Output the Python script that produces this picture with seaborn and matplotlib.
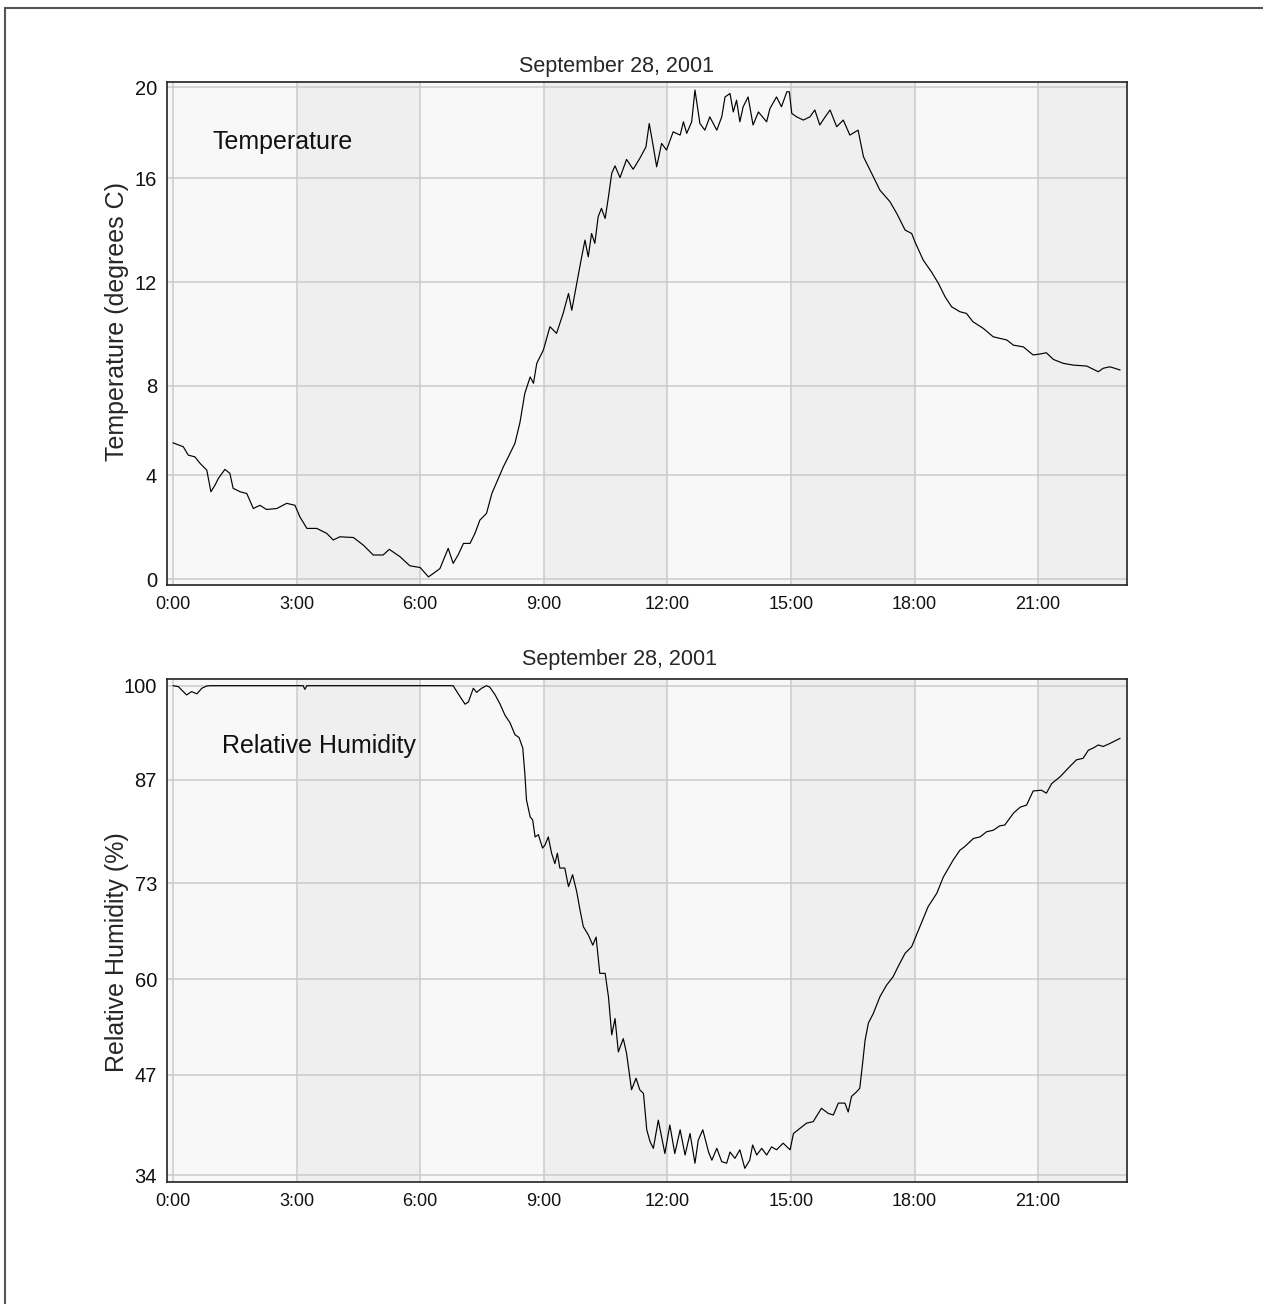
import matplotlib
matplotlib.use("Agg")
import matplotlib.pyplot as plt
import matplotlib.patches as mpatches
import seaborn as sns
import pandas as pd

# ---------------- data ----------------
title_text = "September 28, 2001"

temp_hours = [0.00, 0.25, 0.37, 0.53, 0.66, 0.82, 0.92, 1.02, 1.10, 1.26, 1.38, 1.46, 1.63, 1.79,
              1.95, 2.11, 2.27, 2.52, 2.76, 2.96, 3.08, 3.25, 3.49, 3.73, 3.89, 4.05, 4.38, 4.62,
              4.86, 5.10, 5.25, 5.51, 5.75, 6.00, 6.20, 6.32, 6.48, 6.68, 6.80, 6.92, 7.05, 7.21,
              7.33, 7.45, 7.61, 7.74, 7.90, 8.02, 8.14, 8.30, 8.42, 8.54, 8.67, 8.75, 8.83, 8.99,
              9.15, 9.31, 9.47, 9.60, 9.68, 9.80, 9.92, 10.00, 10.08, 10.16, 10.24, 10.32, 10.40,
              10.49, 10.57, 10.65, 10.73, 10.85, 11.01, 11.17, 11.33, 11.48, 11.56, 11.66, 11.74,
              11.86, 11.98, 12.14, 12.31, 12.39, 12.47, 12.59, 12.67, 12.79, 12.91, 13.03, 13.20,
              13.32, 13.40, 13.52, 13.60, 13.68, 13.76, 13.84, 13.96, 14.08, 14.21, 14.41, 14.49,
              14.65, 14.77, 14.90, 14.96, 15.02, 15.14, 15.30, 15.46, 15.58, 15.70, 15.83, 15.95,
              16.11, 16.27, 16.43, 16.63, 16.76, 17.00, 17.16, 17.40, 17.57, 17.77, 17.93, 18.01,
              18.21, 18.41, 18.58, 18.74, 18.90, 19.10, 19.26, 19.42, 19.67, 19.91, 20.24, 20.40,
              20.64, 20.88, 21.04, 21.20, 21.37, 21.61, 21.85, 22.18, 22.46, 22.58, 22.74, 22.86,
              22.99]
temp_values = [5.54, 5.38, 5.04, 4.97, 4.70, 4.43, 3.55, 3.82, 4.09, 4.46, 4.30, 3.69, 3.55, 3.48,
               2.87, 3.00, 2.83, 2.87, 3.08, 3.00, 2.53, 2.06, 2.06, 1.86, 1.59, 1.72, 1.69, 1.38,
               0.98, 0.98, 1.21, 0.91, 0.54, 0.47, 0.09, 0.23, 0.43, 1.25, 0.64, 0.98, 1.45, 1.45,
               1.86, 2.40, 2.67, 3.48, 4.10, 4.57, 4.97, 5.52, 6.35, 7.55, 8.22, 7.96, 8.77, 9.31,
               10.26, 9.99, 10.80, 11.61, 10.93, 12.02, 13.10, 13.78, 13.10, 14.05, 13.65, 14.73, 15.07,
               14.66, 15.54, 16.50, 16.80, 16.32, 17.06, 16.66, 17.10, 17.57, 18.52, 17.57, 16.76,
               17.71, 17.44, 18.18, 18.05, 18.59, 18.12, 18.59, 19.88, 18.52, 18.25, 18.79, 18.25,
               18.79, 19.60, 19.74, 18.99, 19.47, 18.59, 19.20, 19.60, 18.46, 18.99, 18.59, 19.13,
               19.60, 19.20, 19.81, 19.81, 18.93, 18.79, 18.66, 18.79, 19.07, 18.46, 18.79, 19.07,
               18.39, 18.66, 18.05, 18.25, 17.17, 16.35, 15.81, 15.35, 14.86, 14.19, 14.05, 13.71,
               12.97, 12.49, 12.02, 11.48, 11.07, 10.87, 10.80, 10.46, 10.19, 9.85, 9.72, 9.51,
               9.44, 9.11, 9.15, 9.20, 8.93, 8.77, 8.70, 8.66, 8.43, 8.57, 8.63, 8.57,
               8.50]

rh_hours = [0.00, 0.13, 0.33, 0.45, 0.58, 0.70, 0.82, 0.90, 3.16, 3.20, 3.25, 6.80, 6.97, 7.09,
            7.17, 7.29, 7.37, 7.49, 7.61, 7.69, 7.82, 7.94, 8.06, 8.18, 8.30, 8.40, 8.49, 8.54,
            8.58, 8.67, 8.73, 8.79, 8.87, 8.97, 9.03, 9.11, 9.19, 9.27, 9.33, 9.39, 9.51, 9.60,
            9.70, 9.80, 9.88, 9.96, 10.08, 10.19, 10.27, 10.36, 10.49, 10.57, 10.65, 10.73, 10.81,
            10.93, 11.01, 11.13, 11.24, 11.33, 11.42, 11.50, 11.58, 11.66, 11.78, 11.94, 12.06,
            12.18, 12.31, 12.43, 12.55, 12.67, 12.75, 12.86, 13.00, 13.08, 13.20, 13.32, 13.44,
            13.52, 13.64, 13.76, 13.88, 14.00, 14.07, 14.17, 14.29, 14.41, 14.53, 14.65, 14.81,
            14.98, 15.06, 15.22, 15.38, 15.54, 15.74, 15.91, 16.03, 16.15, 16.31, 16.39, 16.47,
            16.59, 16.67, 16.74, 16.80, 16.88, 17.00, 17.16, 17.32, 17.48, 17.60, 17.77, 17.93,
            18.13, 18.33, 18.54, 18.70, 18.94, 19.10, 19.22, 19.43, 19.59, 19.75, 19.91, 20.07,
            20.19, 20.40, 20.56, 20.72, 20.88, 21.08, 21.20, 21.33, 21.53, 21.77, 21.93, 22.09,
            22.22, 22.34, 22.46, 22.58, 22.74, 22.99]
rh_values = [100.0, 99.87, 98.75, 99.2, 98.9, 99.65, 99.96, 100.0, 100.0, 99.5, 100.0, 100.0, 98.5, 97.5,
             97.8, 99.65, 99.1, 99.65, 100.0, 99.8, 98.75, 97.5, 96.0, 95.0, 93.4, 93.0, 91.6, 88.2,
             84.6, 82.3, 81.9, 79.6, 79.9, 78.1, 78.5, 79.6, 77.4, 76.0, 77.4, 75.4, 75.4, 72.9,
             74.5, 72.2, 69.75, 67.5, 66.4, 65.0, 66.1, 61.2, 61.2, 58.05, 52.9, 55.1, 50.6,
             52.4, 50.4, 45.5, 47.05, 45.5, 45.0, 40.1, 38.5, 37.6, 41.4, 36.9, 40.75,
             36.9, 40.1, 36.7, 39.6, 35.6, 38.7, 40.1, 37.1, 36.0, 37.6, 35.8, 35.6,
             37.1, 36.25, 37.4, 34.9, 36.0, 38.05, 36.7, 37.6, 36.7, 37.8, 37.4, 38.3,
             37.4, 39.6, 40.3, 41.0, 41.2, 43.0, 42.3, 42.1, 43.7, 43.7, 42.5, 44.6,
             45.2, 45.7, 49.1, 52.2, 54.5, 55.8, 58.05, 59.6, 60.75, 62.1, 63.9, 64.8,
             67.5, 70.2, 72.0, 74.2, 76.5, 77.8, 78.3, 79.4, 79.6, 80.3, 80.5, 81.1,
             81.2, 82.8, 83.6, 83.9, 85.8, 85.9, 85.5, 86.8, 87.7, 89.1, 90.0, 90.2,
             91.3, 91.6, 92.0, 91.8, 92.2, 92.9]

hour_ticks = [0, 3, 6, 9, 12, 15, 18, 21]
hour_labels = ["0:00", "3:00", "6:00", "9:00", "12:00", "15:00", "18:00", "21:00"]
temp_ticks = [0, 4.23, 7.85, 12.07, 16.30, 20]
temp_tick_labels = ["0", "4", "8", "12", "16", "20"]
rh_ticks = [34, 47.5, 60.4, 73.35, 87.3, 100]
rh_tick_labels = ["34", "47", "60", "73", "87", "100"]

# ---------------- style ----------------
sns.set_style("white")
plt.rcParams["font.family"] = ["Liberation Sans", "DejaVu Sans"]

W, H = 1263, 1304
fig = plt.figure(figsize=(W / 100, H / 100), dpi=100)

def px_axes(left, top, right, bottom):
    return fig.add_axes([left / W, 1 - bottom / H, (right - left) / W, (bottom - top) / H])

ax1 = px_axes(166.7, 81.7, 1126.7, 585.0)
ax2 = px_axes(166.7, 679.0, 1126.7, 1181.7)

band_light = "#f8f8f8"
band_dark = "#efefef"
grid_color = "#cbcbcb"

def style_axes(ax, xlim, ylim, yticks, ylabels):
    ax.set_xlim(*xlim)
    ax.set_ylim(*ylim)
    edges = [xlim[0], 3, 6, 9, 12, 15, 18, 21, xlim[1]]
    for i in range(len(edges) - 1):
        ax.axvspan(edges[i], edges[i + 1], color=band_light if i % 2 == 0 else band_dark,
                   zorder=0, lw=0)
    ax.set_axisbelow(True)
    ax.set_xticks(hour_ticks)
    ax.set_xticklabels(hour_labels, fontsize=13)
    ax.set_yticks(yticks)
    ax.set_yticklabels(ylabels, fontsize=14.5)
    ax.grid(True, color=grid_color, lw=1.1)
    ax.tick_params(axis="both", length=0, colors="#111111")
    ax.tick_params(axis="x", pad=8)
    ax.tick_params(axis="y", pad=7)
    for s in ax.spines.values():
        s.set_visible(True)
        s.set_color("#222222")
        s.set_linewidth(1.2)
    ax.set_xlabel("")

df_t = pd.DataFrame({"hour": temp_hours, "temp": temp_values})
df_h = pd.DataFrame({"hour": rh_hours, "rh": rh_values})

sns.lineplot(data=df_t, x="hour", y="temp", ax=ax1, color="black", lw=0.85,
             estimator=None, sort=False, zorder=3)
sns.lineplot(data=df_h, x="hour", y="rh", ax=ax2, color="black", lw=0.85,
             estimator=None, sort=False, zorder=3)

style_axes(ax1, (-0.153, 23.15), (-0.24, 20.22), temp_ticks, temp_tick_labels)
style_axes(ax2, (-0.153, 23.15), (33.1, 100.9), rh_ticks, rh_tick_labels)

ax1.set_ylabel("Temperature (degrees C)", fontsize=18, va="center")
ax1.yaxis.set_label_coords(-0.0518, 0.5245)
ax2.set_ylabel("Relative Humidity (%)", fontsize=18, va="center")
ax2.yaxis.set_label_coords(-0.0518, 0.456)

ax1.set_title(title_text, fontsize=15.5, x=0.469, y=1.031, va="center", pad=0)
ax2.set_title(title_text, fontsize=15.5, x=0.472, y=1.038, va="center", pad=0)

ax1.text(0.0472, 0.880, "Temperature", transform=ax1.transAxes, fontsize=18,
         ha="left", va="center", color="#111111")
ax2.text(0.0576, 0.866, "Relative Humidity", transform=ax2.transAxes, fontsize=18,
         ha="left", va="center", color="#111111")

# page frame (top and left edges visible)
fig.add_artist(mpatches.Rectangle((5 / W, -0.1), 1.2, 1.1 - 8 / H, transform=fig.transFigure,
                                  fill=False, edgecolor="#555555", lw=1.5))

fig.savefig("out.png", dpi=100)
